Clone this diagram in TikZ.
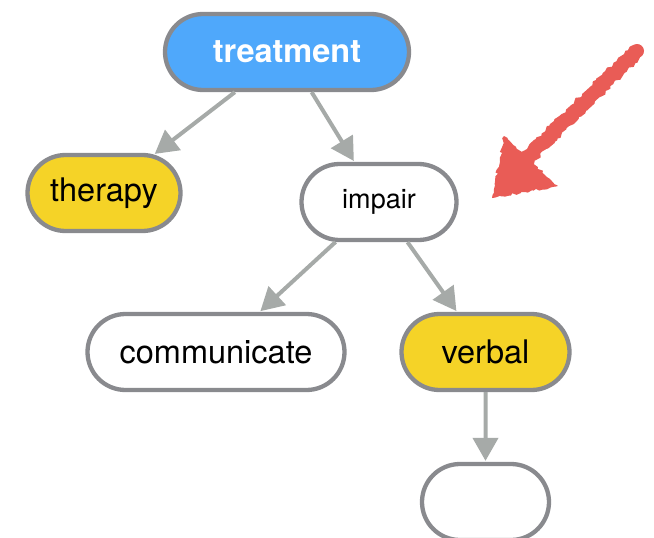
\documentclass[tikz,border=0pt]{standalone}
\usepackage{fontspec}
\setmainfont{TeX Gyre Heros}
\usetikzlibrary{shapes.misc,arrows.meta,decorations.pathmorphing}

\definecolor{nodeborder}{HTML}{898A8E}
\definecolor{linkgray}{HTML}{A6AAA8}
\definecolor{rootblue}{HTML}{4FA8FB}
\definecolor{leafyellow}{HTML}{F5D327}
\definecolor{markred}{HTML}{E95C56}

\tikzset{
  pill/.style={rounded rectangle, draw=nodeborder, line width=4.3pt,
    minimum height=76pt, inner sep=0pt, font=\fontsize{32.5}{38}\selectfont},
  rootpill/.style={pill, fill=rootblue, text=white, font=\fontsize{32.5}{38}\selectfont\bfseries},
  leafpill/.style={pill, fill=leafyellow},
  plainpill/.style={pill, fill=white},
  link/.style={draw=linkgray, line width=4pt,
    -{Triangle[length=23pt,width=25pt]}, shorten >=1pt},
  crayon/.style={decorate, decoration={random steps, segment length=3pt, amplitude=1.4pt}}
}

\begin{document}
\begin{tikzpicture}[x=1pt,y=-1pt]
  \useasboundingbox (0,0) rectangle (654,538);
  \clip (0,0) rectangle (654,538);

  % concept nodes
  \node[rootpill,  minimum width=244pt] (treatment)   at (287,52)  {treatment};
  \node[leafpill,  minimum width=153pt] (therapy)     at (104,193) {therapy};
  \node[plainpill, minimum width=155pt, font=\fontsize{27}{32}\selectfont] (impair) at (379,202) {impair};
  \node[plainpill, minimum width=257pt] (communicate) at (216,352) {communicate};
  \node[leafpill,  minimum width=168pt] (verbal)      at (485.5,352) {verbal};
  \node[plainpill, minimum width=127pt] (empty)       at (485.5,502) {};

  % links
  \draw[link] (treatment) -- (therapy);
  \draw[link] (treatment) -- (impair);
  \draw[link] (impair) -- (communicate);
  \draw[link] (impair) -- (verbal);
  \draw[link] (verbal) -- (empty);

  % hand-drawn pointer
  \coordinate (tail) at (637,51);
  \coordinate (neck) at (522,163);
  \draw[markred, line width=14pt, line cap=round, crayon] (tail) -- (neck);
  \fill[markred, crayon] (492,198) -- (504,136) -- (558,186) -- cycle;
\end{tikzpicture}
\end{document}
